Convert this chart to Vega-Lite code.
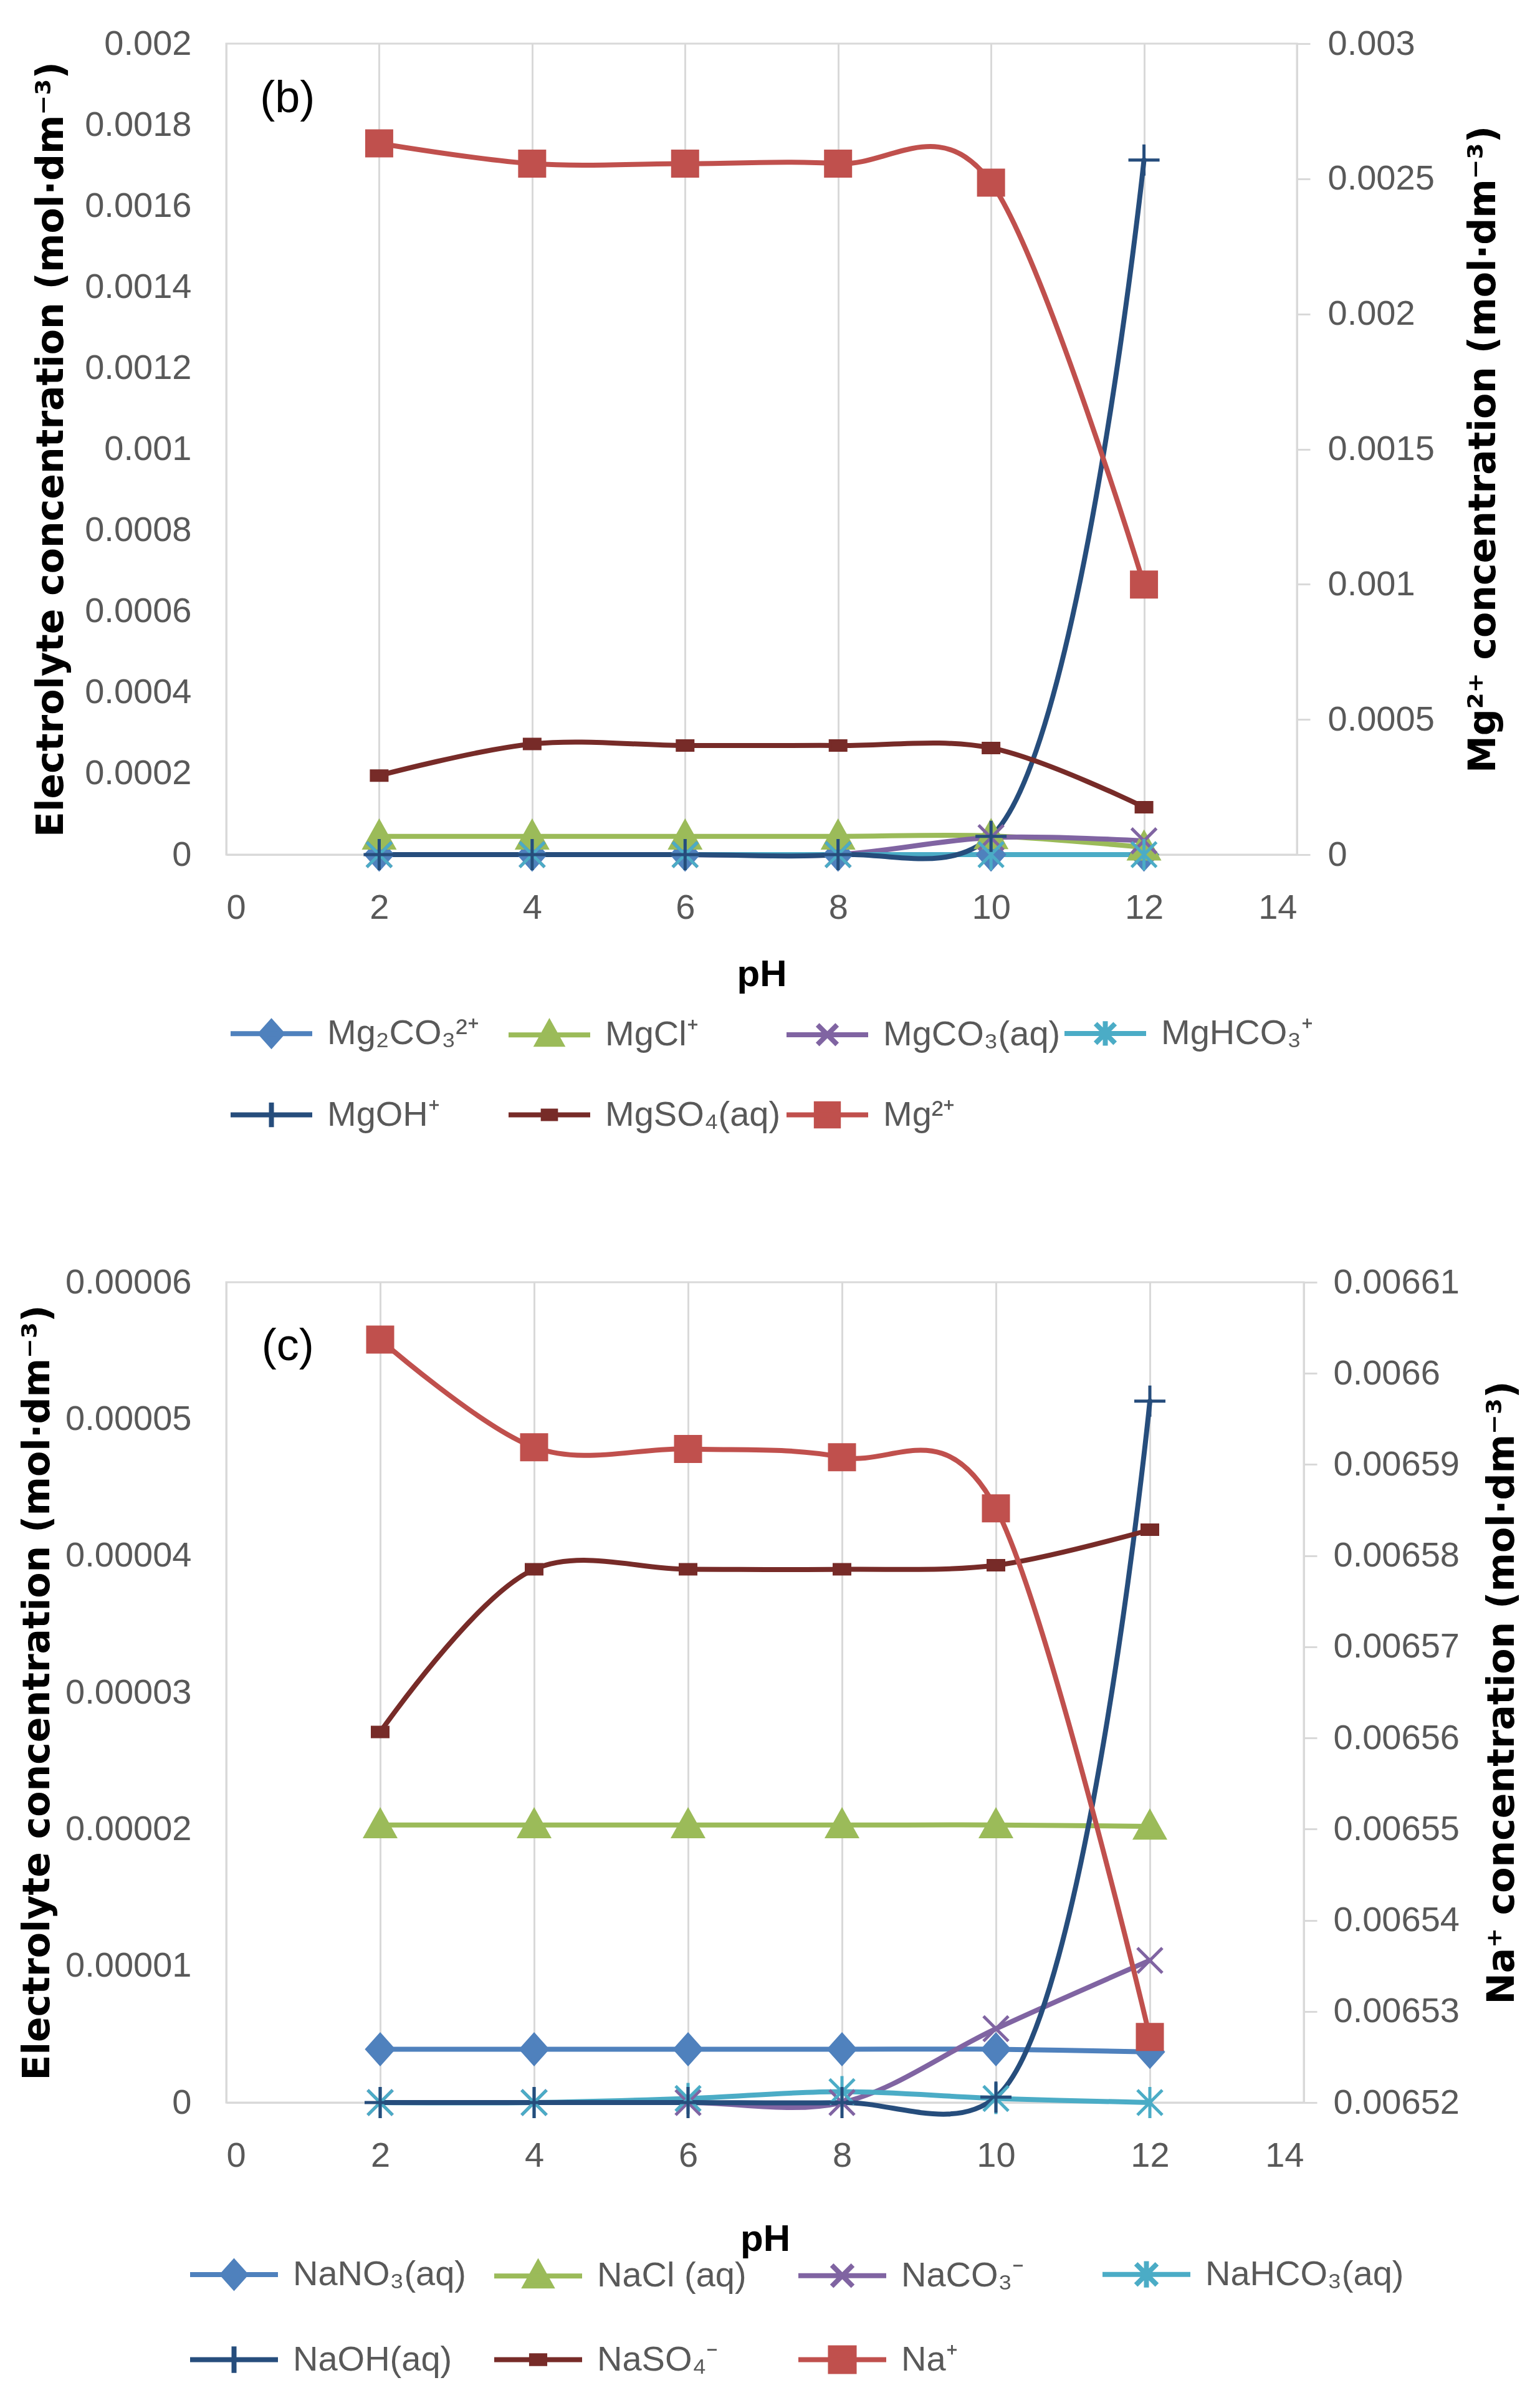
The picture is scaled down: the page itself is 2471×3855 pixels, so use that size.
{
  "$schema": "https://vega.github.io/schema/vega-lite/v6.json",
  "background": "white",
  "padding": {"left": 28, "top": 40, "right": 10, "bottom": 10},
  "datasets": {
    "mg": [
      {"pH": 2, "s": "Mg₂CO₃²⁺", "v": 0},
      {"pH": 4, "s": "Mg₂CO₃²⁺", "v": 0},
      {"pH": 6, "s": "Mg₂CO₃²⁺", "v": 0},
      {"pH": 8, "s": "Mg₂CO₃²⁺", "v": 0},
      {"pH": 10, "s": "Mg₂CO₃²⁺", "v": 0},
      {"pH": 12, "s": "Mg₂CO₃²⁺", "v": 0},
      {"pH": 2, "s": "MgCl⁺", "v": 0.000045},
      {"pH": 4, "s": "MgCl⁺", "v": 0.000045},
      {"pH": 6, "s": "MgCl⁺", "v": 0.000045},
      {"pH": 8, "s": "MgCl⁺", "v": 0.000045},
      {"pH": 10, "s": "MgCl⁺", "v": 0.000046},
      {"pH": 12, "s": "MgCl⁺", "v": 0.000018},
      {"pH": 2, "s": "MgCO₃(aq)", "v": 0},
      {"pH": 4, "s": "MgCO₃(aq)", "v": 0},
      {"pH": 6, "s": "MgCO₃(aq)", "v": 0},
      {"pH": 8, "s": "MgCO₃(aq)", "v": 0},
      {"pH": 10, "s": "MgCO₃(aq)", "v": 0.000042},
      {"pH": 12, "s": "MgCO₃(aq)", "v": 0.000034},
      {"pH": 2, "s": "MgHCO₃⁺", "v": 0},
      {"pH": 4, "s": "MgHCO₃⁺", "v": 0},
      {"pH": 6, "s": "MgHCO₃⁺", "v": 0},
      {"pH": 8, "s": "MgHCO₃⁺", "v": 0},
      {"pH": 10, "s": "MgHCO₃⁺", "v": 0},
      {"pH": 12, "s": "MgHCO₃⁺", "v": 0},
      {"pH": 2, "s": "MgOH⁺", "v": 0},
      {"pH": 4, "s": "MgOH⁺", "v": 0},
      {"pH": 6, "s": "MgOH⁺", "v": 0},
      {"pH": 8, "s": "MgOH⁺", "v": 0},
      {"pH": 10, "s": "MgOH⁺", "v": 0.000045},
      {"pH": 12, "s": "MgOH⁺", "v": 0.001713},
      {"pH": 2, "s": "MgSO₄(aq)", "v": 0.000195},
      {"pH": 4, "s": "MgSO₄(aq)", "v": 0.000273},
      {"pH": 6, "s": "MgSO₄(aq)", "v": 0.000269},
      {"pH": 8, "s": "MgSO₄(aq)", "v": 0.000269},
      {"pH": 10, "s": "MgSO₄(aq)", "v": 0.000263},
      {"pH": 12, "s": "MgSO₄(aq)", "v": 0.000117},
      {"pH": 2, "s": "Mg²⁺", "v": 0.002631},
      {"pH": 4, "s": "Mg²⁺", "v": 0.002556},
      {"pH": 6, "s": "Mg²⁺", "v": 0.002556},
      {"pH": 8, "s": "Mg²⁺", "v": 0.002556},
      {"pH": 10, "s": "Mg²⁺", "v": 0.002486},
      {"pH": 12, "s": "Mg²⁺", "v": 0.000999}
    ],
    "na": [
      {"pH": 2, "s": "NaNO₃(aq)", "v": 0.0000039},
      {"pH": 4, "s": "NaNO₃(aq)", "v": 0.0000039},
      {"pH": 6, "s": "NaNO₃(aq)", "v": 0.0000039},
      {"pH": 8, "s": "NaNO₃(aq)", "v": 0.0000039},
      {"pH": 10, "s": "NaNO₃(aq)", "v": 0.0000039},
      {"pH": 12, "s": "NaNO₃(aq)", "v": 0.0000037},
      {"pH": 2, "s": "NaCl (aq)", "v": 0.0000203},
      {"pH": 4, "s": "NaCl (aq)", "v": 0.0000203},
      {"pH": 6, "s": "NaCl (aq)", "v": 0.0000203},
      {"pH": 8, "s": "NaCl (aq)", "v": 0.0000203},
      {"pH": 10, "s": "NaCl (aq)", "v": 0.0000203},
      {"pH": 12, "s": "NaCl (aq)", "v": 0.0000202},
      {"pH": 2, "s": "NaCO₃⁻", "v": 0},
      {"pH": 4, "s": "NaCO₃⁻", "v": 0},
      {"pH": 6, "s": "NaCO₃⁻", "v": 0},
      {"pH": 8, "s": "NaCO₃⁻", "v": 0},
      {"pH": 10, "s": "NaCO₃⁻", "v": 0.0000054},
      {"pH": 12, "s": "NaCO₃⁻", "v": 0.0000104},
      {"pH": 2, "s": "NaHCO₃(aq)", "v": 0},
      {"pH": 4, "s": "NaHCO₃(aq)", "v": 0},
      {"pH": 6, "s": "NaHCO₃(aq)", "v": 0.0000003},
      {"pH": 8, "s": "NaHCO₃(aq)", "v": 0.0000008},
      {"pH": 10, "s": "NaHCO₃(aq)", "v": 0.0000003},
      {"pH": 12, "s": "NaHCO₃(aq)", "v": 0},
      {"pH": 2, "s": "NaOH(aq)", "v": 0},
      {"pH": 4, "s": "NaOH(aq)", "v": 0},
      {"pH": 6, "s": "NaOH(aq)", "v": 0},
      {"pH": 8, "s": "NaOH(aq)", "v": 0},
      {"pH": 10, "s": "NaOH(aq)", "v": 0.0000004},
      {"pH": 12, "s": "NaOH(aq)", "v": 0.0000513},
      {"pH": 2, "s": "NaSO₄⁻", "v": 0.0000271},
      {"pH": 4, "s": "NaSO₄⁻", "v": 0.000039},
      {"pH": 6, "s": "NaSO₄⁻", "v": 0.000039},
      {"pH": 8, "s": "NaSO₄⁻", "v": 0.000039},
      {"pH": 10, "s": "NaSO₄⁻", "v": 0.0000393},
      {"pH": 12, "s": "NaSO₄⁻", "v": 0.0000419},
      {"pH": 2, "s": "Na⁺", "v": 0.0066037},
      {"pH": 4, "s": "Na⁺", "v": 0.0065919},
      {"pH": 6, "s": "Na⁺", "v": 0.0065917},
      {"pH": 8, "s": "Na⁺", "v": 0.0065908},
      {"pH": 10, "s": "Na⁺", "v": 0.0065852},
      {"pH": 12, "s": "Na⁺", "v": 0.0065272}
    ]
  },
  "spacing": 200,
  "vconcat": [
    {
      "width": 1718,
      "height": 1301,
      "data": {"name": "mg"},
      "resolve": {"scale": {"y": "independent", "color": "independent", "stroke": "independent", "shape": "independent"}},
      "layer": [
        {
          "transform": [{"filter": "datum.s !== 'Mg²⁺'"}],
          "mark": {"type": "line", "interpolate": "catmull-rom", "strokeWidth": 8, "strokeCap": "round"},
          "encoding": {
            "x": {"field": "pH", "type": "quantitative", "scale": {"domain": [0, 14], "nice": false},
              "axis": {"values": [0, 2, 4, 6, 8, 10, 12, 14], "format": "d", "title": "pH", "grid": true, "ticks": false, "labelPadding": 58, "titlePadding": 50}},
            "y": {"field": "v", "type": "quantitative", "scale": {"domain": [0, 0.002], "nice": false},
              "axis": {"orient": "left", "title": "Electrolyte concentration (mol·dm⁻³)", "values": [0, 0.0002, 0.0004, 0.0006, 0.0008, 0.001, 0.0012, 0.0014, 0.0016, 0.0018, 0.002], "format": "~g", "grid": false, "ticks": false, "labelPadding": 56, "titlePadding": 50}},
            "color": {"field": "s", "type": "nominal", "legend": null,
              "scale": {"domain": ["Mg₂CO₃²⁺", "MgCl⁺", "MgCO₃(aq)", "MgHCO₃⁺", "MgOH⁺", "MgSO₄(aq)"], "range": ["#4F81BD", "#9BBB59", "#8064A2", "#4BACC6", "#264D7C", "#772B28"]}}
          }
        },
        {
          "transform": [{"filter": "datum.s !== 'Mg²⁺'"}],
          "mark": {"type": "point", "filled": true, "size": 2500, "strokeWidth": 5, "opacity": 1},
          "encoding": {
            "x": {"field": "pH", "type": "quantitative", "scale": {"domain": [0, 14], "nice": false}},
            "y": {"field": "v", "type": "quantitative", "scale": {"domain": [0, 0.002], "nice": false}, "axis": null},
            "color": {"field": "s", "type": "nominal", "legend": null,
              "scale": {"domain": ["Mg₂CO₃²⁺", "MgCl⁺", "MgCO₃(aq)", "MgHCO₃⁺", "MgOH⁺", "MgSO₄(aq)"], "range": ["#4F81BD", "#9BBB59", "#8064A2", "#4BACC6", "#264D7C", "#772B28"]}},
            "stroke": {"field": "s", "type": "nominal", "legend": null,
              "scale": {"domain": ["Mg₂CO₃²⁺", "MgCl⁺", "MgCO₃(aq)", "MgHCO₃⁺", "MgOH⁺", "MgSO₄(aq)"], "range": ["#4F81BD", "#9BBB59", "#8064A2", "#4BACC6", "#264D7C", "#772B28"]}},
            "shape": {"field": "s", "type": "nominal", "legend": null,
              "scale": {"domain": ["Mg₂CO₃²⁺", "MgCl⁺", "MgCO₃(aq)", "MgHCO₃⁺", "MgOH⁺", "MgSO₄(aq)"],
                "range": ["M0,-0.95L0.85,0L0,0.95L-0.85,0Z", "M0,-0.95L0.95,0.75L-0.95,0.75Z", "M-0.8,-0.8L0.8,0.8M-0.8,0.8L0.8,-0.8", "M-0.8,-0.8L0.8,0.8M-0.8,0.8L0.8,-0.8M0,-1L0,1", "M-1,0L1,0M0,-1L0,1", "M-0.5,-0.3L0.5,-0.3L0.5,0.3L-0.5,0.3Z"]}}
          }
        },
        {
          "transform": [{"filter": "datum.s === 'Mg²⁺'"}],
          "mark": {"type": "line", "interpolate": "cardinal", "strokeWidth": 8, "strokeCap": "round", "color": "#C0504D"},
          "encoding": {
            "x": {"field": "pH", "type": "quantitative", "scale": {"domain": [0, 14], "nice": false}},
            "y": {"field": "v", "type": "quantitative", "scale": {"domain": [0, 0.003], "nice": false},
              "axis": {"orient": "right", "title": "Mg²⁺ concentration (mol·dm⁻³)", "titleAngle": 270, "titleBaseline": "top", "values": [0, 0.0005, 0.001, 0.0015, 0.002, 0.0025, 0.003], "format": "~g", "grid": false, "ticks": true, "tickSize": 21, "labelPadding": 28, "titlePadding": 70}}
          }
        },
        {
          "transform": [{"filter": "datum.s === 'Mg²⁺'"}],
          "mark": {"type": "point", "filled": true, "size": 2500, "strokeWidth": 3, "opacity": 1, "color": "#C0504D", "shape": "M-0.9,-0.9L0.9,-0.9L0.9,0.9L-0.9,0.9Z"},
          "encoding": {
            "x": {"field": "pH", "type": "quantitative", "scale": {"domain": [0, 14], "nice": false}},
            "y": {"field": "v", "type": "quantitative", "scale": {"domain": [0, 0.003], "nice": false}, "axis": null}
          }
        },
        {
          "transform": [{"filter": "false"}],
          "mark": {"type": "point", "filled": true, "opacity": 1},
          "encoding": {
            "color": {"field": "s", "type": "nominal",
              "scale": {"domain": ["Mg₂CO₃²⁺", "MgCl⁺", "MgCO₃(aq)", "MgHCO₃⁺", "MgOH⁺", "MgSO₄(aq)", "Mg²⁺"], "range": ["#4F81BD", "#9BBB59", "#8064A2", "#4BACC6", "#264D7C", "#772B28", "#C0504D"]},
              "legend": {"title": null, "orient": "none", "legendX": 3, "legendY": 1518, "direction": "horizontal", "columns": 4, "gridAlign": "all", "symbolSize": 17161, "symbolStrokeWidth": 8, "labelFont": "Liberation Sans", "labelFontSize": 56, "labelColor": "#595959", "labelOffset": 20, "columnPadding": -10, "rowPadding": 25, "labelLimit": 0}},
            "stroke": {"field": "s", "type": "nominal",
              "scale": {"domain": ["Mg₂CO₃²⁺", "MgCl⁺", "MgCO₃(aq)", "MgHCO₃⁺", "MgOH⁺", "MgSO₄(aq)", "Mg²⁺"], "range": ["#4F81BD", "#9BBB59", "#8064A2", "#4BACC6", "#264D7C", "#772B28", "#C0504D"]}},
            "shape": {"field": "s", "type": "nominal",
              "scale": {"domain": ["Mg₂CO₃²⁺", "MgCl⁺", "MgCO₃(aq)", "MgHCO₃⁺", "MgOH⁺", "MgSO₄(aq)", "Mg²⁺"],
                "range": ["M-1,0L1,0M0,-0.29L0.26,0L0,0.29L-0.26,0Z", "M-1,0L1,0M0,-0.29L0.29,0.23L-0.29,0.23Z", "M-1,0L1,0M-0.24,-0.24L0.24,0.24M-0.24,0.24L0.24,-0.24", "M-1,0L1,0M-0.24,-0.24L0.24,0.24M-0.24,0.24L0.24,-0.24M0,-0.3L0,0.3", "M-1,0L1,0M0,-0.3L0,0.3", "M-1,0L1,0M-0.15,-0.09L0.15,-0.09L0.15,0.09L-0.15,0.09Z", "M-1,0L1,0M-0.27,-0.27L0.27,-0.27L0.27,0.27L-0.27,0.27Z"]}}
          }
        },
        {
          "data": {"values": [{"pH": 0.8, "v": 0.001865, "t": "(b)"}]},
          "mark": {"type": "text", "font": "Liberation Sans", "fontSize": 72, "color": "black"},
          "encoding": {
            "x": {"field": "pH", "type": "quantitative", "scale": {"domain": [0, 14], "nice": false}},
            "y": {"field": "v", "type": "quantitative", "scale": {"domain": [0, 0.002], "nice": false}, "axis": null},
            "text": {"field": "t"}
          }
        }
      ]
    },
    {
      "width": 1729,
      "height": 1316,
      "data": {"name": "na"},
      "resolve": {"scale": {"y": "independent", "color": "independent", "stroke": "independent", "shape": "independent"}},
      "layer": [
        {
          "transform": [{"filter": "datum.s !== 'Na⁺'"}],
          "mark": {"type": "line", "interpolate": "catmull-rom", "strokeWidth": 8, "strokeCap": "round"},
          "encoding": {
            "x": {"field": "pH", "type": "quantitative", "scale": {"domain": [0, 14], "nice": false},
              "axis": {"values": [0, 2, 4, 6, 8, 10, 12, 14], "format": "d", "title": "pH", "grid": true, "ticks": false, "labelPadding": 58, "titlePadding": 77}},
            "y": {"field": "v", "type": "quantitative", "scale": {"domain": [0, 0.00006], "nice": false},
              "axis": {"orient": "left", "title": "Electrolyte concentration (mol·dm⁻³)", "values": [0, 0.00001, 0.00002, 0.00003, 0.00004, 0.00005, 0.00006], "format": "~g", "grid": false, "ticks": false, "labelPadding": 56, "titlePadding": 72}},
            "color": {"field": "s", "type": "nominal", "legend": null,
              "scale": {"domain": ["NaNO₃(aq)", "NaCl (aq)", "NaCO₃⁻", "NaHCO₃(aq)", "NaOH(aq)", "NaSO₄⁻"], "range": ["#4F81BD", "#9BBB59", "#8064A2", "#4BACC6", "#264D7C", "#772B28"]}}
          }
        },
        {
          "transform": [{"filter": "datum.s !== 'Na⁺'"}],
          "mark": {"type": "point", "filled": true, "size": 2500, "strokeWidth": 5, "opacity": 1},
          "encoding": {
            "x": {"field": "pH", "type": "quantitative", "scale": {"domain": [0, 14], "nice": false}},
            "y": {"field": "v", "type": "quantitative", "scale": {"domain": [0, 0.00006], "nice": false}, "axis": null},
            "color": {"field": "s", "type": "nominal", "legend": null,
              "scale": {"domain": ["NaNO₃(aq)", "NaCl (aq)", "NaCO₃⁻", "NaHCO₃(aq)", "NaOH(aq)", "NaSO₄⁻"], "range": ["#4F81BD", "#9BBB59", "#8064A2", "#4BACC6", "#264D7C", "#772B28"]}},
            "stroke": {"field": "s", "type": "nominal", "legend": null,
              "scale": {"domain": ["NaNO₃(aq)", "NaCl (aq)", "NaCO₃⁻", "NaHCO₃(aq)", "NaOH(aq)", "NaSO₄⁻"], "range": ["#4F81BD", "#9BBB59", "#8064A2", "#4BACC6", "#264D7C", "#772B28"]}},
            "shape": {"field": "s", "type": "nominal", "legend": null,
              "scale": {"domain": ["NaNO₃(aq)", "NaCl (aq)", "NaCO₃⁻", "NaHCO₃(aq)", "NaOH(aq)", "NaSO₄⁻"],
                "range": ["M0,-0.95L0.85,0L0,0.95L-0.85,0Z", "M0,-0.95L0.95,0.75L-0.95,0.75Z", "M-0.8,-0.8L0.8,0.8M-0.8,0.8L0.8,-0.8", "M-0.8,-0.8L0.8,0.8M-0.8,0.8L0.8,-0.8M0,-1L0,1", "M-1,0L1,0M0,-1L0,1", "M-0.5,-0.3L0.5,-0.3L0.5,0.3L-0.5,0.3Z"]}}
          }
        },
        {
          "transform": [{"filter": "datum.s === 'Na⁺'"}],
          "mark": {"type": "line", "interpolate": "cardinal", "strokeWidth": 8, "strokeCap": "round", "color": "#C0504D"},
          "encoding": {
            "x": {"field": "pH", "type": "quantitative", "scale": {"domain": [0, 14], "nice": false}},
            "y": {"field": "v", "type": "quantitative", "scale": {"domain": [0.00652, 0.00661], "nice": false, "zero": false},
              "axis": {"orient": "right", "title": "Na⁺ concentration (mol·dm⁻³)", "titleAngle": 270, "titleBaseline": "top", "values": [0.00652, 0.00653, 0.00654, 0.00655, 0.00656, 0.00657, 0.00658, 0.00659, 0.0066, 0.00661], "format": "~g", "grid": false, "ticks": true, "tickSize": 21, "labelPadding": 26, "titlePadding": 89}}
          }
        },
        {
          "transform": [{"filter": "datum.s === 'Na⁺'"}],
          "mark": {"type": "point", "filled": true, "size": 2500, "strokeWidth": 3, "opacity": 1, "color": "#C0504D", "shape": "M-0.9,-0.9L0.9,-0.9L0.9,0.9L-0.9,0.9Z"},
          "encoding": {
            "x": {"field": "pH", "type": "quantitative", "scale": {"domain": [0, 14], "nice": false}},
            "y": {"field": "v", "type": "quantitative", "scale": {"domain": [0.00652, 0.00661], "nice": false, "zero": false}, "axis": null}
          }
        },
        {
          "transform": [{"filter": "false"}],
          "mark": {"type": "point", "filled": true, "opacity": 1},
          "encoding": {
            "color": {"field": "s", "type": "nominal",
              "scale": {"domain": ["NaNO₃(aq)", "NaCl (aq)", "NaCO₃⁻", "NaHCO₃(aq)", "NaOH(aq)", "NaSO₄⁻", "Na⁺"], "range": ["#4F81BD", "#9BBB59", "#8064A2", "#4BACC6", "#264D7C", "#772B28", "#C0504D"]},
              "legend": {"title": null, "orient": "none", "legendX": -62, "legendY": 1517, "direction": "horizontal", "columns": 4, "gridAlign": "all", "symbolSize": 19881, "symbolStrokeWidth": 8, "labelFont": "Liberation Sans", "labelFontSize": 56, "labelColor": "#595959", "labelOffset": 20, "columnPadding": -16, "rowPadding": 25, "labelLimit": 0}},
            "stroke": {"field": "s", "type": "nominal",
              "scale": {"domain": ["NaNO₃(aq)", "NaCl (aq)", "NaCO₃⁻", "NaHCO₃(aq)", "NaOH(aq)", "NaSO₄⁻", "Na⁺"], "range": ["#4F81BD", "#9BBB59", "#8064A2", "#4BACC6", "#264D7C", "#772B28", "#C0504D"]}},
            "shape": {"field": "s", "type": "nominal",
              "scale": {"domain": ["NaNO₃(aq)", "NaCl (aq)", "NaCO₃⁻", "NaHCO₃(aq)", "NaOH(aq)", "NaSO₄⁻", "Na⁺"],
                "range": ["M-1,0L1,0M0,-0.29L0.26,0L0,0.29L-0.26,0Z", "M-1,0L1,0M0,-0.29L0.29,0.23L-0.29,0.23Z", "M-1,0L1,0M-0.24,-0.24L0.24,0.24M-0.24,0.24L0.24,-0.24", "M-1,0L1,0M-0.24,-0.24L0.24,0.24M-0.24,0.24L0.24,-0.24M0,-0.3L0,0.3", "M-1,0L1,0M0,-0.3L0,0.3", "M-1,0L1,0M-0.15,-0.09L0.15,-0.09L0.15,0.09L-0.15,0.09Z", "M-1,0L1,0M-0.27,-0.27L0.27,-0.27L0.27,0.27L-0.27,0.27Z"]}}
          }
        },
        {
          "data": {"values": [{"pH": 0.8, "v": 0.0000553, "t": "(c)"}]},
          "mark": {"type": "text", "font": "Liberation Sans", "fontSize": 72, "color": "black"},
          "encoding": {
            "x": {"field": "pH", "type": "quantitative", "scale": {"domain": [0, 14], "nice": false}},
            "y": {"field": "v", "type": "quantitative", "scale": {"domain": [0, 0.00006], "nice": false}, "axis": null},
            "text": {"field": "t"}
          }
        }
      ]
    }
  ],
  "config": {
    "view": {"stroke": "#D9D9D9", "strokeWidth": 3},
    "axis": {
      "domainColor": "#D9D9D9", "domainWidth": 3,
      "gridColor": "#D9D9D9", "gridWidth": 3,
      "tickColor": "#D9D9D9", "tickWidth": 3,
      "labelFont": "Liberation Sans", "labelFontSize": 56, "labelColor": "#595959", "labelLimit": 0,
      "titleFont": "DejaVu Sans", "titleFontSize": 60, "titleFontWeight": "bold", "titleColor": "black", "titleLimit": 0
    },
    "axisX": {"titleFont": "Liberation Sans", "titleFontSize": 60}
  }
}
